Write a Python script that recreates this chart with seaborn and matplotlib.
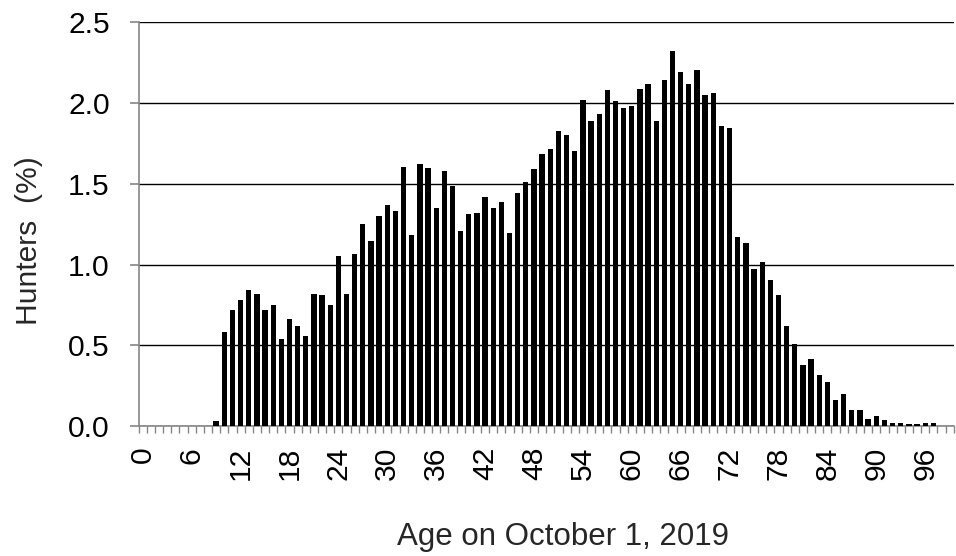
import matplotlib
matplotlib.use("Agg")
import matplotlib.pyplot as plt
import seaborn as sns
import pandas as pd
import numpy as np

# ---- data ----
ages = list(range(9, 98))
hunters_pct = [
    0.03,                                                  # 9
    0.58, 0.72, 0.78, 0.84, 0.82, 0.72, 0.75, 0.54, 0.66, 0.62,   # 10-19
    0.56, 0.82, 0.81, 0.75, 1.055, 0.82, 1.065, 1.25, 1.145, 1.30,  # 20-29
    1.37, 1.33, 1.605, 1.185, 1.625, 1.595, 1.35, 1.58, 1.485, 1.21,  # 30-39
    1.31, 1.32, 1.42, 1.35, 1.39, 1.195, 1.44, 1.51, 1.59, 1.685,  # 40-49
    1.715, 1.825, 1.80, 1.705, 2.02, 1.89, 1.93, 2.08, 2.01, 1.97,  # 50-59
    1.98, 2.09, 2.115, 1.89, 2.14, 2.325, 2.195, 2.12, 2.205, 2.05,  # 60-69
    2.06, 1.86, 1.845, 1.17, 1.135, 0.975, 1.015, 0.905, 0.81, 0.62,  # 70-79
    0.505, 0.375, 0.415, 0.315, 0.275, 0.16, 0.20, 0.10, 0.10, 0.045,  # 80-89
    0.06, 0.04, 0.02, 0.02, 0.012, 0.012, 0.02, 0.02,  # 90-97
]
xtick_values = list(range(0, 97, 6))
xtick_labels = [str(v) for v in xtick_values]
ytick_values = [0.0, 0.5, 1.0, 1.5, 2.0, 2.5]
ytick_labels = ["0.0", "0.5", "1.0", "1.5", "2.0", "2.5"]
x_title = "Age on October 1, 2019"
y_title = "Hunters  (%)"
n_slots = 100  # age slots 0..99 on the axis

df = pd.DataFrame({"age": ages, "pct": hunters_pct})

sns.set_style("ticks")
plt.rcParams['font.family'] = ['Liberation Sans', 'DejaVu Sans']
FS = 21.6
GRAY = "#868686"

fig = plt.figure(figsize=(9.56, 5.56), dpi=100)
ax = fig.add_axes([138.7 / 956, 1 - 426 / 556, 815 / 956, (426 - 22.3) / 556])

sns.barplot(data=df, x="age", y="pct", native_scale=True, width=0.65,
            color="black", saturation=1, linewidth=0, ax=ax, zorder=3)

ax.set_xlim(-0.5, n_slots - 0.5)
ax.set_ylim(0, 2.5)

# grid
ax.yaxis.grid(True, color="black", linewidth=1.0)
ax.xaxis.grid(False)
ax.set_axisbelow(True)

# spines
for s in ["top", "right"]:
    ax.spines[s].set_visible(False)
ax.spines["left"].set_color(GRAY)
ax.spines["bottom"].set_color(GRAY)
ax.spines["left"].set_linewidth(1.2)
ax.spines["bottom"].set_linewidth(1.2)

# y ticks
ax.set_yticks(ytick_values)
ax.set_yticklabels(ytick_labels)
ax.tick_params(axis="y", which="major", left=True, length=6.5, width=1.2,
               color=GRAY, pad=14.4, labelsize=FS, labelcolor="black")

# x ticks: labels at age centres, small tick marks at slot boundaries
ax.set_xticks(xtick_values)
ax.set_xticklabels(xtick_labels, rotation=90)
ax.set_xticks(np.arange(-0.5, n_slots, 1), minor=True)
ax.tick_params(axis="x", which="major", bottom=True, length=0, pad=15,
               labelsize=FS, labelcolor="black")
ax.tick_params(axis="x", which="minor", bottom=True, length=5, width=1.0,
               color=GRAY)

ax.set_xlabel("")
ax.set_ylabel("")

fig.text(563 / 956, 1 - 545 / 556, x_title, ha="center", va="baseline",
         fontsize=22.5)
fig.text(36.7 / 956, 1 - 241 / 556, y_title, rotation=90,
         rotation_mode="anchor", ha="center", va="baseline", fontsize=FS)

fig.savefig("out.png", dpi=100, facecolor="white")
